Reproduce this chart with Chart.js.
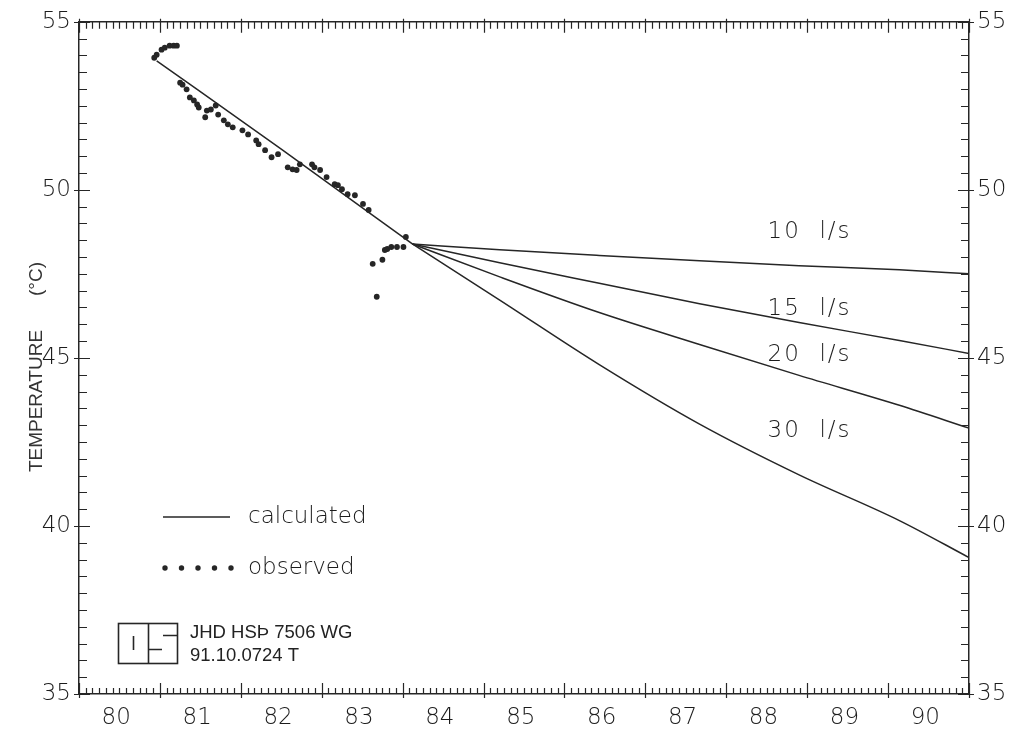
<!DOCTYPE html>
<html lang="en">
<head>
    <meta charset="UTF-8">
    <title>Temperature (°C) - calculated and observed</title>
    <script src="https://cdn.jsdelivr.net/npm/chart.js"></script>
    <style>
        html, body { margin: 0; padding: 0; background: #fff; }
        #wrap { width: 1011px; height: 733px; }
    </style>
</head>
<body>
<div id="wrap">
    <canvas id="tempChart" width="1011" height="733"></canvas>
</div>

<script>
    // observed temperatures, decimal year vs °C
    const obsYears = [1980.93, 1980.96, 1981.02, 1981.06, 1981.12, 1981.17, 1981.21,
        1981.25, 1981.28, 1981.33, 1981.37, 1981.42, 1981.46, 1981.48,
        1981.56, 1981.58, 1981.63, 1981.69, 1981.72, 1981.79, 1981.84, 1981.90,
        1982.02, 1982.09, 1982.19, 1982.22, 1982.30, 1982.38, 1982.46,
        1982.58, 1982.64, 1982.69, 1982.73, 1982.88, 1982.91, 1982.98,
        1983.06, 1983.16, 1983.20, 1983.25, 1983.32, 1983.41, 1983.51, 1983.58,
        1983.63, 1983.68, 1983.75, 1983.78, 1983.81, 1983.86, 1983.93, 1984.01, 1984.04];
    const obsTemps = [53.93, 54.02, 54.17, 54.23, 54.29, 54.29, 54.29,
        53.19, 53.13, 52.99, 52.75, 52.66, 52.54, 52.45,
        52.16, 52.36, 52.39, 52.51, 52.24, 52.07, 51.95, 51.86,
        51.77, 51.65, 51.47, 51.36, 51.18, 50.97, 51.06,
        50.67, 50.61, 50.59, 50.76, 50.76, 50.67, 50.59,
        50.38, 50.17, 50.14, 50.02, 49.87, 49.84, 49.58, 49.40,
        47.80, 46.82, 47.92, 48.21, 48.24, 48.30, 48.30, 48.30, 48.60];

    // model fit over the history
    const calcYears = [1980.96, 1982.5, 1984.12];
    const calcTemps = [53.84, 51.21, 48.39];

    // predictions for different production rates
    const forecastYears = [1984.12, 1985.2, 1986.43, 1987.67, 1988.9, 1990.14, 1991.0];
    const flow10 = [48.39, 48.22, 48.05, 47.89, 47.74, 47.62, 47.50];
    const flow15 = [48.39, 47.83, 47.22, 46.61, 46.05, 45.52, 45.13];
    const flow20 = [48.39, 47.41, 46.35, 45.40, 44.48, 43.59, 42.91];
    const flow30 = [48.39, 46.72, 44.80, 43.03, 41.52, 40.16, 39.06];
    const flowNames = ['10  l/s', '15  l/s', '20  l/s', '30  l/s'];

    const xTickLabels = ['80', '81', '82', '83', '84', '85', '86', '87', '88', '89', '90'];
    const yTickValues = [35, 40, 45, 50, 55];

    const INK = '#262626';
    const TEXT = '#1c1c1c';
    const FAMILY = "'DejaVu Sans', 'Noto Sans', sans-serif";
    const LABEL_FONT = "200 23px " + FAMILY;

    const pts = (xs, ys) => xs.map((x, i) => ({ x: x, y: ys[i] }));

    const lineSet = (label, xs, ys) => ({
        label: label,
        data: pts(xs, ys),
        showLine: true,
        borderColor: INK,
        borderWidth: 1.5,
        pointRadius: 0,
        cubicInterpolationMode: 'monotone',
        fill: false
    });

    // tick marks pointing into the plot on all four sides
    const frameTicks = {
        id: 'frameTicks',
        afterDraw(chart) {
            const { ctx, chartArea: a, scales: { x, y } } = chart;
            ctx.save();
            ctx.strokeStyle = INK;
            ctx.lineWidth = 1.2;
            ctx.beginPath();
            // monthly ticks, longer at each new year
            for (let m = 0; m <= 132; m++) {
                const px = Math.round(x.getPixelForValue(x.min + m / 12)) + 0.5;
                const major = m % 12 === 0;
                ctx.moveTo(px, a.bottom + (major ? 4 : 0));
                ctx.lineTo(px, a.bottom - (major ? 11 : 6));
                ctx.moveTo(px, a.top - (major ? 3 : 0));
                ctx.lineTo(px, a.top + (major ? 11 : 7));
            }
            // half-degree ticks, longer every 5 degrees
            for (let k = 0; k <= 40; k++) {
                const v = y.min + k * 0.5;
                const py = Math.round(y.getPixelForValue(v)) + 0.5;
                const major = k % 10 === 0;
                ctx.moveTo(a.left - (major ? 5 : 0), py);
                ctx.lineTo(a.left + (major ? 11 : 8), py);
                ctx.moveTo(a.right + (major ? 5 : 0), py);
                ctx.lineTo(a.right - (major ? 11 : 8), py);
            }
            ctx.stroke();
            ctx.restore();
        }
    };

    // curve names, legend, axis title and the stamp box
    const annotations = {
        id: 'annotations',
        afterDraw(chart) {
            const { ctx, scales: { x, y } } = chart;
            ctx.save();
            ctx.fillStyle = TEXT;
            ctx.strokeStyle = INK;
            ctx.font = LABEL_FONT;
            ctx.textBaseline = 'middle';
            ctx.textAlign = 'left';

            const nameAt = [48.75, 46.44, 45.10, 42.82];
            ctx.letterSpacing = '2px';
            flowNames.forEach((t, i) => {
                ctx.fillText(t, x.getPixelForValue(1988.51), y.getPixelForValue(nameAt[i]));
            });
            ctx.letterSpacing = '0px';

            // legend
            ctx.lineWidth = 1.5;
            ctx.beginPath();
            ctx.moveTo(163, 517);
            ctx.lineTo(230, 517);
            ctx.stroke();
            ctx.fillText('calculated', 248, 517);
            ctx.fillStyle = INK;
            for (let i = 0; i < 5; i++) {
                ctx.beginPath();
                ctx.arc(165 + i * 16.5, 568, 2.7, 0, Math.PI * 2);
                ctx.fill();
            }
            ctx.fillStyle = TEXT;
            ctx.fillText('observed', 248, 568);

            // y axis title
            ctx.save();
            ctx.translate(37, 0);
            ctx.rotate(-Math.PI / 2);
            ctx.fillStyle = '#333';
            ctx.font = "19px 'Liberation Sans', Arial, sans-serif";
            ctx.textAlign = 'center';
            ctx.fillText('TEMPERATURE', -401, 0);
            ctx.fillText('(°C)', -279, 0);
            ctx.restore();

            // stamp box
            ctx.lineWidth = 1.6;
            ctx.strokeRect(118.5, 623.5, 59, 40);
            ctx.beginPath();
            ctx.moveTo(148.5, 623.5); ctx.lineTo(148.5, 663.5);
            ctx.moveTo(133.5, 636); ctx.lineTo(133.5, 650);
            ctx.moveTo(148.5, 649.5); ctx.lineTo(162, 649.5);
            ctx.moveTo(163, 635.5); ctx.lineTo(177.5, 635.5);
            ctx.stroke();
            ctx.fillStyle = '#222';
            ctx.font = "18.5px 'Liberation Sans', Arial, sans-serif";
            ctx.fillText('JHD HSÞ 7506 WG', 190, 633);
            ctx.fillText('91.10.0724 T', 190, 656);
            ctx.restore();
        }
    };

    const yAxis = (position, width) => ({
        type: 'linear',
        position: position,
        min: 35,
        max: 55,
        grid: { display: false, drawTicks: false },
        border: { display: true, color: INK, width: 1.5 },
        ticks: {
            padding: 8,
            color: TEXT,
            font: { family: FAMILY, size: 23, weight: '200' }
        },
        afterBuildTicks: s => { s.ticks = yTickValues.map(v => ({ value: v })); },
        afterFit: s => { s.width = width; }
    });

    const ctx = document.getElementById('tempChart').getContext('2d');
    new Chart(ctx, {
        type: 'scatter',
        data: {
            datasets: [
                lineSet('calculated', calcYears, calcTemps),
                lineSet('10 l/s', forecastYears, flow10),
                lineSet('15 l/s', forecastYears, flow15),
                lineSet('20 l/s', forecastYears, flow20),
                lineSet('30 l/s', forecastYears, flow30),
                {
                    label: 'observed',
                    data: pts(obsYears, obsTemps),
                    showLine: false,
                    pointRadius: 2.9,
                    pointBackgroundColor: INK,
                    pointBorderWidth: 0
                }
            ]
        },
        options: {
            responsive: false,
            animation: false,
            devicePixelRatio: 1,
            layout: { padding: 0 },
            plugins: { legend: { display: false }, tooltip: { enabled: false } },
            scales: {
                x: {
                    type: 'linear',
                    position: 'bottom',
                    min: 1980,
                    max: 1991,
                    grid: { display: false, drawTicks: false },
                    border: { display: true, color: INK, width: 1.5 },
                    ticks: {
                        padding: 10,
                        maxRotation: 0,
                        autoSkip: false,
                        color: TEXT,
                        font: { family: FAMILY, size: 23, weight: '200' },
                        callback: (v, i) => xTickLabels[i]
                    },
                    // year labels sit in the middle of each year
                    afterBuildTicks: s => { s.ticks = xTickLabels.map((_, i) => ({ value: 1980.46 + i })); },
                    afterFit: s => { s.height = 39; }
                },
                xTop: {
                    type: 'linear',
                    position: 'top',
                    min: 1980,
                    max: 1991,
                    grid: { display: false, drawTicks: false },
                    border: { display: true, color: INK, width: 1.5 },
                    ticks: { display: false },
                    afterFit: s => { s.height = 19; }
                },
                y: yAxis('left', 79),
                yRight: yAxis('right', 42)
            }
        },
        plugins: [frameTicks, annotations]
    });
</script>
</body>
</html>
